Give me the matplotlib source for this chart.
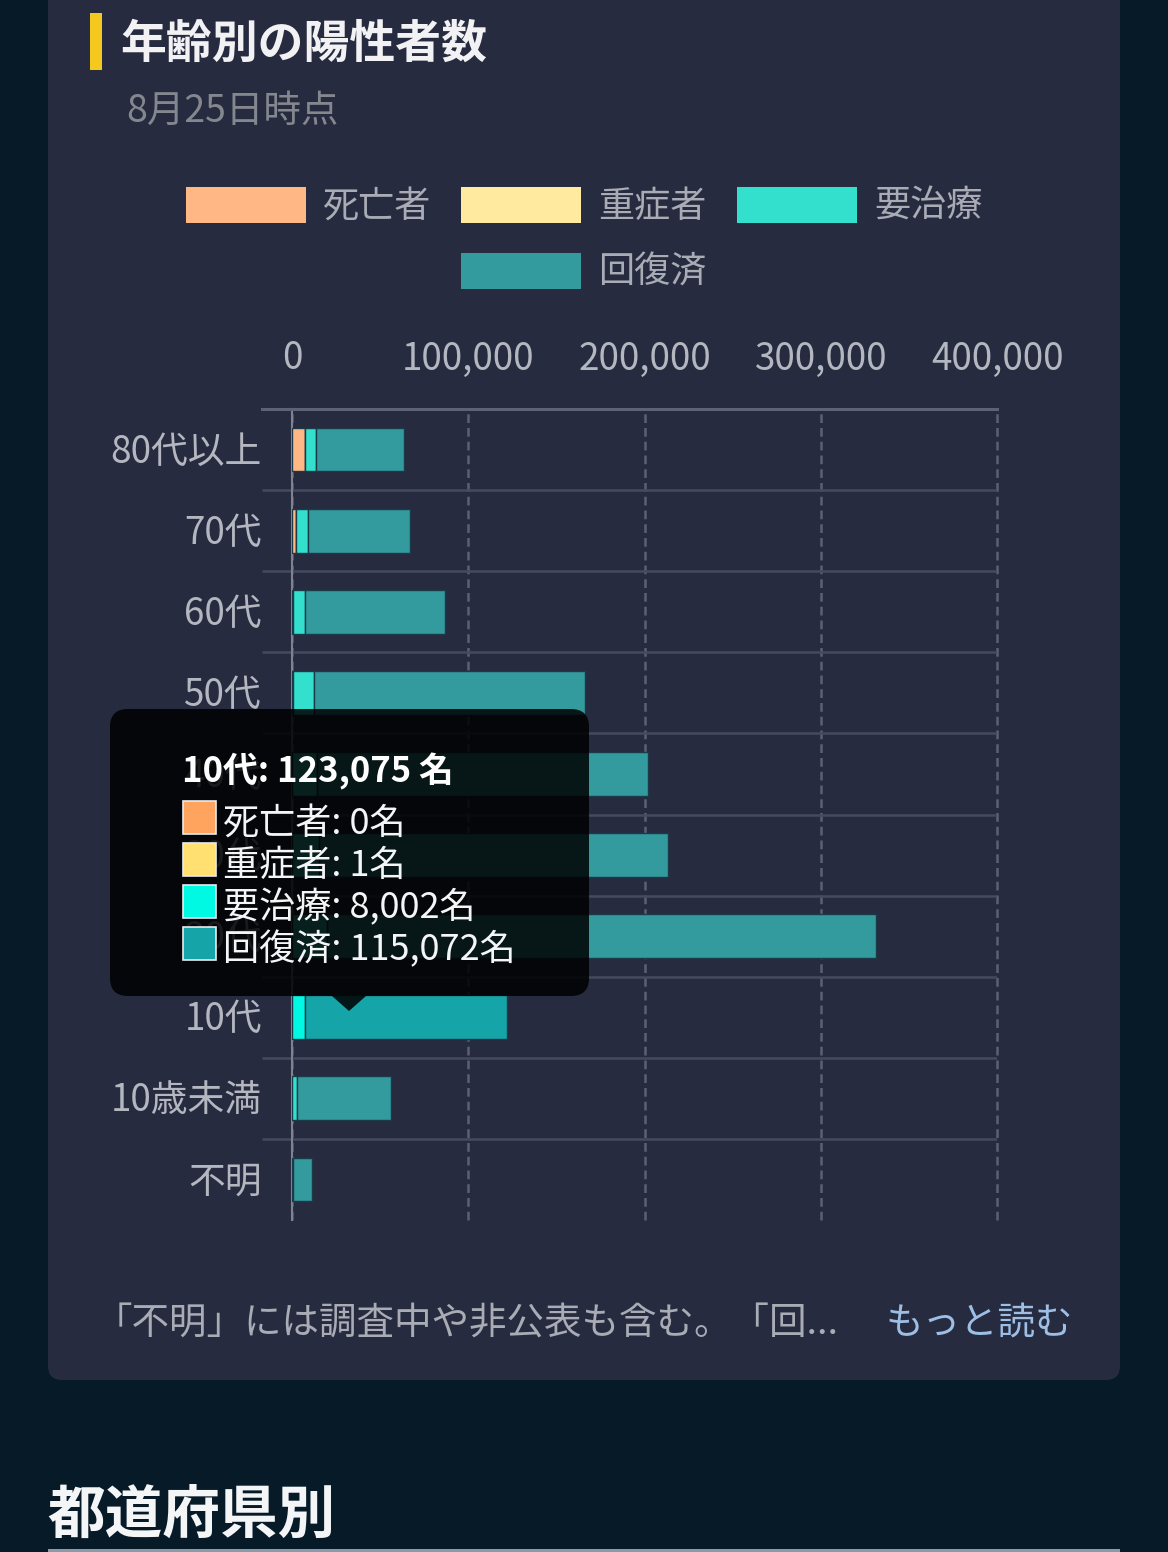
import matplotlib
matplotlib.use('Agg')
import matplotlib.pyplot as plt
import numpy as np
from matplotlib.patches import Rectangle, FancyBboxPatch, Polygon
from matplotlib.ticker import FuncFormatter
from matplotlib.transforms import ScaledTranslation

plt.rcParams['font.family'] = ['Noto Sans CJK JP', 'DejaVu Sans']

# 上から順
ages = ['80代以上', '70代', '60代', '50代', '40代', '30代', '20代', '10代', '10歳未満', '不明']
dead = [7200, 2300, 700, 300, 100, 30, 20, 0, 0, 0]
severe = [200, 150, 100, 80, 40, 20, 10, 1, 0, 0]
care = [6000, 6500, 6600, 12200, 14000, 15000, 20000, 7300, 3000, 300]
recovered = [50400, 57750, 79400, 153600, 187900, 198300, 311300, 114700, 53200, 11000]

series_names = ['死亡者', '重症者', '要治療', '回復済']
bar_colors = ['#ffb885', '#ffeaa0', '#33dfcd', '#339b9e']
active_colors = ['#ffa45e', '#ffe070', '#00f9e2', '#15a4a8']
x_ticks = [0, 100000, 200000, 300000, 400000]

tip_title = '10代: 123,075 名'
tip_values = ['0名', '1名', '8,002名', '115,072名']

W, H = 1168, 1552
BG = '#061a28'
CARD = '#272b3f'
GRID = '#464a5e'
TXT = '#b4b6c0'

fig = plt.figure(figsize=(W / 100, H / 100), dpi=100, facecolor=BG)

# 背景とテキスト用 (ピクセル座標)
bg = fig.add_axes([0, 0, 1, 1], zorder=0)
bg.set_xlim(0, W)
bg.set_ylim(H, 0)
bg.axis('off')
bg.add_patch(FancyBboxPatch((48, -40), 1072, 1420, boxstyle='round,pad=0,rounding_size=14',
                            fc=CARD, ec='none'))
bg.add_patch(Rectangle((90, 13), 12, 57, fc='#f4c81e', ec='none'))
bg.text(120, 45, '年齢別の陽性者数', color='#f2f2f4', fontsize=33, fontweight='bold', va='center')
bg.text(126, 111, '8月25日時点', color='#85878f', fontsize=27, va='center')

# 凡例
leg_pos = [(186, 205), (461, 205), (737, 205), (461, 271)]
for name, c, (lx, ly) in zip(series_names, bar_colors, leg_pos):
    bg.add_patch(Rectangle((lx, ly - 18), 120, 36, fc=c, ec='none'))
    bg.text(lx + 137, ly + 2, name, color='#a9abb5', fontsize=26, va='center')

bg.text(95, 1324, '「不明」には調査中や非公表も含む。「回...', color='#a9abb5', fontsize=27, va='center')
bg.text(885, 1324, 'もっと読む', color='#9dbfe6', fontsize=27, va='center')
bg.text(47, 1516, '都道府県別', color='#f4f5f7', fontsize=41.5, fontweight='bold', va='center')
bg.add_patch(Rectangle((48, 1549), 1072, 3, fc='#8a9aa8', ec='none'))

# 棒グラフ本体
ax = fig.add_axes([292 / W, 1 - 1220 / H, 705 / W, (1220 - 409) / H], zorder=1)
ax.patch.set_alpha(0)
y = np.arange(len(ages))
left = np.zeros(len(ages))
for i, (vals, name) in enumerate(zip([dead, severe, care, recovered], series_names)):
    bars = ax.barh(y, vals, left=left, height=0.54, color=bar_colors[i],
                   edgecolor='#1d3a48', linewidth=1, zorder=3, label=name)
    bars[7].set_facecolor(active_colors[i])
    left = left + np.array(vals)

ax.set_ylim(len(ages) - 0.5, -0.5)
ax.set_xlim(0, 400000)
ax.xaxis.tick_top()
ax.set_xticks(x_ticks)
ax.xaxis.set_major_formatter(FuncFormatter(lambda v, pos: f'{int(v):,}'))
ax.set_yticks(y)
ax.set_yticklabels(ages)
ax.set_yticks(np.arange(0.5, len(ages) - 1), minor=True)
ax.tick_params(axis='x', length=0, pad=22, labelsize=26.5, labelcolor=TXT)
ax.tick_params(axis='y', which='major', length=0, pad=21.6, labelsize=26.5, labelcolor=TXT)
ax.tick_params(axis='y', which='minor', length=21.6, width=1.8, color=GRID)
ax.grid(axis='x', color='#5d6074', linestyle=(0, (3.5, 2)), linewidth=1.8, zorder=1)
ax.grid(axis='y', which='minor', color=GRID, linewidth=1.8, zorder=1)
ax.set_axisbelow(True)
for gl in ax.get_xgridlines():
    gl.set_clip_on(False)
# 縦位置を少し上へ
for lab in ax.get_yticklabels():
    lab.set_transform(lab.get_transform() + ScaledTranslation(0, 2 / 100, fig.dpi_scale_trans))
for s in ['right', 'bottom']:
    ax.spines[s].set_visible(False)
ax.spines['top'].set_color('#5f6276')
ax.spines['top'].set_linewidth(2.2)
ax.spines['left'].set_color('#80838f')
ax.spines['left'].set_linewidth(1.5)
ax.plot([-30 / 705 * 400000, 0], [-0.5, -0.5], color='#5f6276', lw=2.2, clip_on=False, zorder=2)

# ツールチップ
top = fig.add_axes([0, 0, 1, 1], zorder=2)
top.set_xlim(0, W)
top.set_ylim(H, 0)
top.axis('off')
top.patch.set_alpha(0)
top.add_patch(FancyBboxPatch((110, 709), 479, 287, boxstyle='round,pad=0,rounding_size=18',
                             fc='#000000', ec='none', alpha=0.86))
top.add_patch(Polygon([(332, 996), (366, 996), (349, 1011)], closed=True,
                      fc='#000000', ec='none', alpha=0.86))
top.text(182, 771, tip_title, color='#ffffff', fontsize=25, fontweight='bold', va='center')
for i, (name, val) in enumerate(zip(series_names, tip_values)):
    ty = 801 + i * 42
    top.add_patch(Rectangle((183, ty), 33, 33, fc=active_colors[i], ec='#e8eaee', lw=1.2))
    top.text(223, ty + 23, f'{name}: {val}', color='#f4f5f7', fontsize=26, va='center')

fig.savefig('out.png', dpi=100, facecolor=BG)
